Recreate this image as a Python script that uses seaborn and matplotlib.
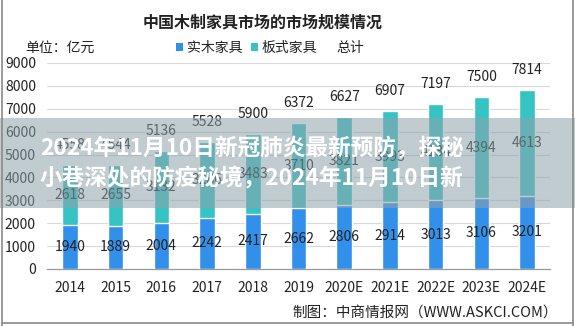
import matplotlib
matplotlib.use('Agg')
import matplotlib.pyplot as plt
import seaborn as sns
import pandas as pd
from matplotlib.patches import Patch, Rectangle
from matplotlib.lines import Line2D

years = ['2014', '2015', '2016', '2017', '2018', '2019', '2020E', '2021E', '2022E', '2023E', '2024E']
solid_wood = [1940, 1889, 2004, 2242, 2417, 2662, 2806, 2914, 3013, 3106, 3201]
panel_wood = [2618, 2655, 3132, 3286, 3483, 3710, 3821, 3993, 4184, 4394, 4613]
totals = [4558, 4544, 5136, 5528, 5900, 6372, 6627, 6907, 7197, 7500, 7814]
yticks = [0, 1000, 2000, 3000, 4000, 5000, 6000, 7000, 8000, 9000]

BLUE = '#3390ea'
TEAL = '#36c3c3'

sns.set_theme(style='white')
plt.rcParams['font.family'] = ['Noto Sans CJK SC', 'DejaVu Sans']

df = pd.DataFrame({'year': years, 'solid': solid_wood, 'panel': panel_wood, 'total': totals})

W, H = 575, 326
fig = plt.figure(figsize=(W / 100, H / 100), dpi=100)
fig.patch.set_facecolor('white')
ax = fig.add_axes([47 / W, 57 / H, 503 / W, 206 / H])

sns.barplot(data=df, x='year', y='total', color=TEAL, width=0.34, saturation=1, ax=ax, zorder=2)
sns.barplot(data=df, x='year', y='solid', color=BLUE, width=0.34, saturation=1, ax=ax, zorder=3)

ax.set_xlim(-0.5, len(years) - 0.5)
ax.set_ylim(0, 9000)
ax.set_yticks(yticks)
ax.set_yticklabels([str(v) for v in yticks])
ax.set_xlabel('')
ax.set_ylabel('')
ax.yaxis.grid(True, color='#d9d9d9', lw=0.8)
ax.set_axisbelow(True)
for s in ['left', 'top', 'right']:
    ax.spines[s].set_visible(False)
ax.spines['bottom'].set_color('#9a9a9a')
ax.spines['bottom'].set_linewidth(0.9)
ax.set_xticks([i + 0.5 for i in range(-1, len(years))], minor=True)
ax.tick_params(axis='x', which='major', length=0, pad=9, labelsize=10, labelcolor='#222222')
ax.tick_params(axis='x', which='minor', length=4, color='#9a9a9a', width=0.8, direction='out')
ax.tick_params(axis='y', length=0, pad=8, labelsize=10, labelcolor='#222222')

for i in range(len(years)):
    ax.annotate(str(solid_wood[i]), (i, solid_wood[i] / 2), ha='center', va='center',
                fontsize=10, color='#222222', zorder=5)
    ax.annotate(str(panel_wood[i]), (i, solid_wood[i] + panel_wood[i] / 2), ha='center', va='center',
                fontsize=10, color='#222222', zorder=5)
    ax.annotate(str(totals[i]), (i, totals[i]), xytext=(0, 20), textcoords='offset pixels',
                ha='center', va='center', fontsize=10, color='#222222', zorder=5)

fig.text(263 / W, 1 - 23 / H, '中国木制家具市场的市场规模情况', ha='center', va='center',
         fontsize=11.5, fontweight='bold', color='#222222')
fig.text(25 / W, 1 - 48 / H, '单位：亿元', ha='left', va='center', fontsize=10, color='#222222')

handles = [Patch(facecolor=BLUE, edgecolor='none'), Patch(facecolor=TEAL, edgecolor='none'),
           Line2D([], [], color='none')]
fig.legend(handles, ['实木家具', '板式家具', '总计'], loc='center', bbox_to_anchor=(270 / W, 1 - 48 / H),
           ncol=3, frameon=False, fontsize=10, handlelength=0.55, handleheight=0.55,
           handletextpad=0.25, columnspacing=0.6, labelcolor='#222222')

fig.text(558 / W, 1 - 313 / H, '制图：中商情报网（WWW.ASKCI.COM）', ha='right', va='center',
         fontsize=10.5, color='#222222')

# overlay banner
fig.add_artist(Rectangle((0, 1 - 208 / H), 1, 90 / H, transform=fig.transFigure,
                         facecolor='#8ea2ac', alpha=0.55, edgecolor='none', zorder=10))
fig.text(40 / W, 1 - 148 / H, '2024年11月10日新冠肺炎最新预防，探秘', ha='left', va='center',
         fontsize=16.3, fontweight='bold', color='white', zorder=11)
fig.text(40 / W, 1 - 179 / H, '小巷深处的防疫秘境，2024年11月10日新', ha='left', va='center',
         fontsize=16.3, fontweight='bold', color='white', zorder=11)

# frame border
for xs, ys in [([2 / W, 2 / W], [0, 1]), ([2 / W, 573 / W], [3 / H, 3 / H]), ([573 / W, 573 / W], [0, 1])]:
    fig.add_artist(Line2D(xs, ys, transform=fig.transFigure, color='#8a8a8a', lw=1.2, zorder=12))

fig.savefig('out.png', dpi=100)
